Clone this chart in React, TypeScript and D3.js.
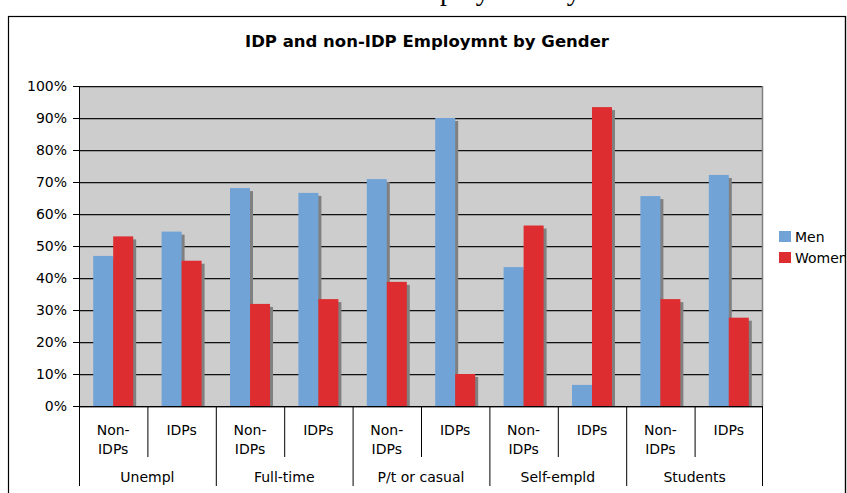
import React from "react";
import * as d3 from "d3";

const groups = ["Unempl", "Full-time", "P/t or casual", "Self-empld", "Students"];
const subCategories = ["Non-IDPs", "IDPs"];
const seriesNames = ["Men", "Women"];
const menValues = [46.9, 54.5, 68.1, 66.6, 70.9, 90.0, 43.4, 6.6, 65.6, 72.2];
const womenValues = [53.0, 45.4, 31.9, 33.4, 38.8, 10.0, 56.4, 93.4, 33.4, 27.6];
const yTickValues = [0, 10, 20, 30, 40, 50, 60, 70, 80, 90, 100];
const title = "IDP and non-IDP Employmnt by Gender";
const captionAbove = "Employment by Gender";

const W = 847;
const H = 493;
const FONT = "'DejaVu Sans', Verdana, sans-serif";
const COLORS = ["#71a3d7", "#dd2d30"];

export default function App() {
  const plotL = 79, plotR = 763, plotT = 86, plotB = 406;
  const slots = groups.flatMap((g) => subCategories.map((s) => `${g}|${s}`));
  const x = d3.scaleBand<string>().domain(slots).range([plotL, plotR]).padding(0);
  const y = d3.scaleLinear().domain([0, 100]).range([plotB, plotT]);
  const bw = x.bandwidth() / 3.42;
  const inner = d3.scaleBand<string>().domain(seriesNames).range([0, bw * 2]).padding(0);
  const series = [menValues, womenValues];
  const groupW = x.bandwidth() * subCategories.length;

  return (
    <svg width={W} height={H} style={{ position: "absolute", left: 0, top: 0, background: "#fff" }}>
      <defs>
        <clipPath id="frameClip">
          <rect x={0} y={0} width={845} height={H} />
        </clipPath>
      </defs>
      <text x={401} y={0} fontFamily="'Liberation Serif', 'Times New Roman', serif" fontSize={28} fill="#000">
        {captionAbove}
      </text>
      <rect x={8.5} y={16.5} width={837} height={H + 20} fill="#fff" stroke="#000" strokeWidth={1.2} />
      <text x={427} y={47} textAnchor="middle" fontFamily={FONT} fontWeight="bold" fontSize={16.5} fill="#000">
        {title}
      </text>

      {/* plot background */}
      <rect x={plotL} y={plotT} width={plotR - plotL} height={plotB - plotT} fill="#cdcdcd" />

      {/* gridlines */}
      {yTickValues.map((t) => (
        <g key={`g${t}`}>
          <line x1={plotL} x2={plotR} y1={y(t) + 1.5} y2={y(t) + 1.5} stroke="#9a9a9a" strokeWidth={1} />
          <line x1={plotL} x2={plotR} y1={y(t) + 0.5} y2={y(t) + 0.5} stroke="#111" strokeWidth={1} />
        </g>
      ))}

      {/* bars */}
      {slots.map((slot, i) => {
        const x0 = (x(slot) as number) + (x.bandwidth() - bw * 2) / 2;
        return (
          <g key={slot}>
            {seriesNames.map((s, si) => {
              const v = series[si][i];
              const bx = x0 + (inner(s) as number);
              const by = y(v);
              return (
                <g key={s}>
                  <rect x={bx + 3} y={by + 3} width={bw} height={plotB - by - 3} fill="#808080" />
                  <rect x={bx} y={by} width={bw} height={plotB - by} fill={COLORS[si]} />
                </g>
              );
            })}
          </g>
        );
      })}

      {/* axis lines */}
      <line x1={plotR - 0.5} x2={plotR - 0.5} y1={plotT} y2={plotB} stroke="#808080" strokeWidth={1.5} />
      <line x1={plotL} x2={plotR} y1={plotB + 0.5} y2={plotB + 0.5} stroke="#000" strokeWidth={1} />
      <line x1={plotL + 0.5} x2={plotL + 0.5} y1={plotT} y2={plotB} stroke="#000" strokeWidth={1} />

      {/* y ticks and labels */}
      {yTickValues.map((t) => (
        <g key={`t${t}`}>
          <line x1={73} x2={plotL} y1={y(t) + 0.5} y2={y(t) + 0.5} stroke="#000" />
          <text x={67} y={y(t) + 5} textAnchor="end" fontFamily={FONT} fontSize={14} fill="#000">
            {`${t}%`}
          </text>
        </g>
      ))}

      {/* x sub-category ticks and labels */}
      {slots.map((slot, i) => {
        const sx = x(slot) as number;
        const cx = sx + x.bandwidth() / 2;
        const sub = slot.split("|")[1];
        const isGroupStart = i % subCategories.length === 0;
        const parts = sub === "Non-IDPs" ? ["Non-", "IDPs"] : [sub];
        return (
          <g key={`x${slot}`}>
            <line x1={sx + 0.5} x2={sx + 0.5} y1={plotB} y2={isGroupStart ? 486 : 457} stroke="#000" />
            {parts.map((p, k) => (
              <text key={k} x={cx} y={435 + k * 19} textAnchor="middle" fontFamily={FONT} fontSize={14} fill="#000">
                {p}
              </text>
            ))}
          </g>
        );
      })}
      <line x1={plotR - 0.5} x2={plotR - 0.5} y1={plotB} y2={486} stroke="#000" />

      {/* group labels */}
      {groups.map((g, gi) => {
        const gx = x(`${g}|${subCategories[0]}`) as number;
        return (
          <text key={g} x={gx + groupW / 2} y={482} textAnchor="middle" fontFamily={FONT} fontSize={14} fill="#000">
            {g}
          </text>
        );
      })}

      {/* legend */}
      <g clipPath="url(#frameClip)">
        {seriesNames.map((s, si) => (
          <g key={s}>
            <rect x={779} y={231 + si * 21} width={12} height={11} fill={COLORS[si]} />
            <text x={795} y={242 + si * 21} fontFamily={FONT} fontSize={14} fill="#000">
              {s}
            </text>
          </g>
        ))}
      </g>
      <line x1={845.5} x2={845.5} y1={16} y2={H} stroke="#000" strokeWidth={1.2} />
    </svg>
  );
}
